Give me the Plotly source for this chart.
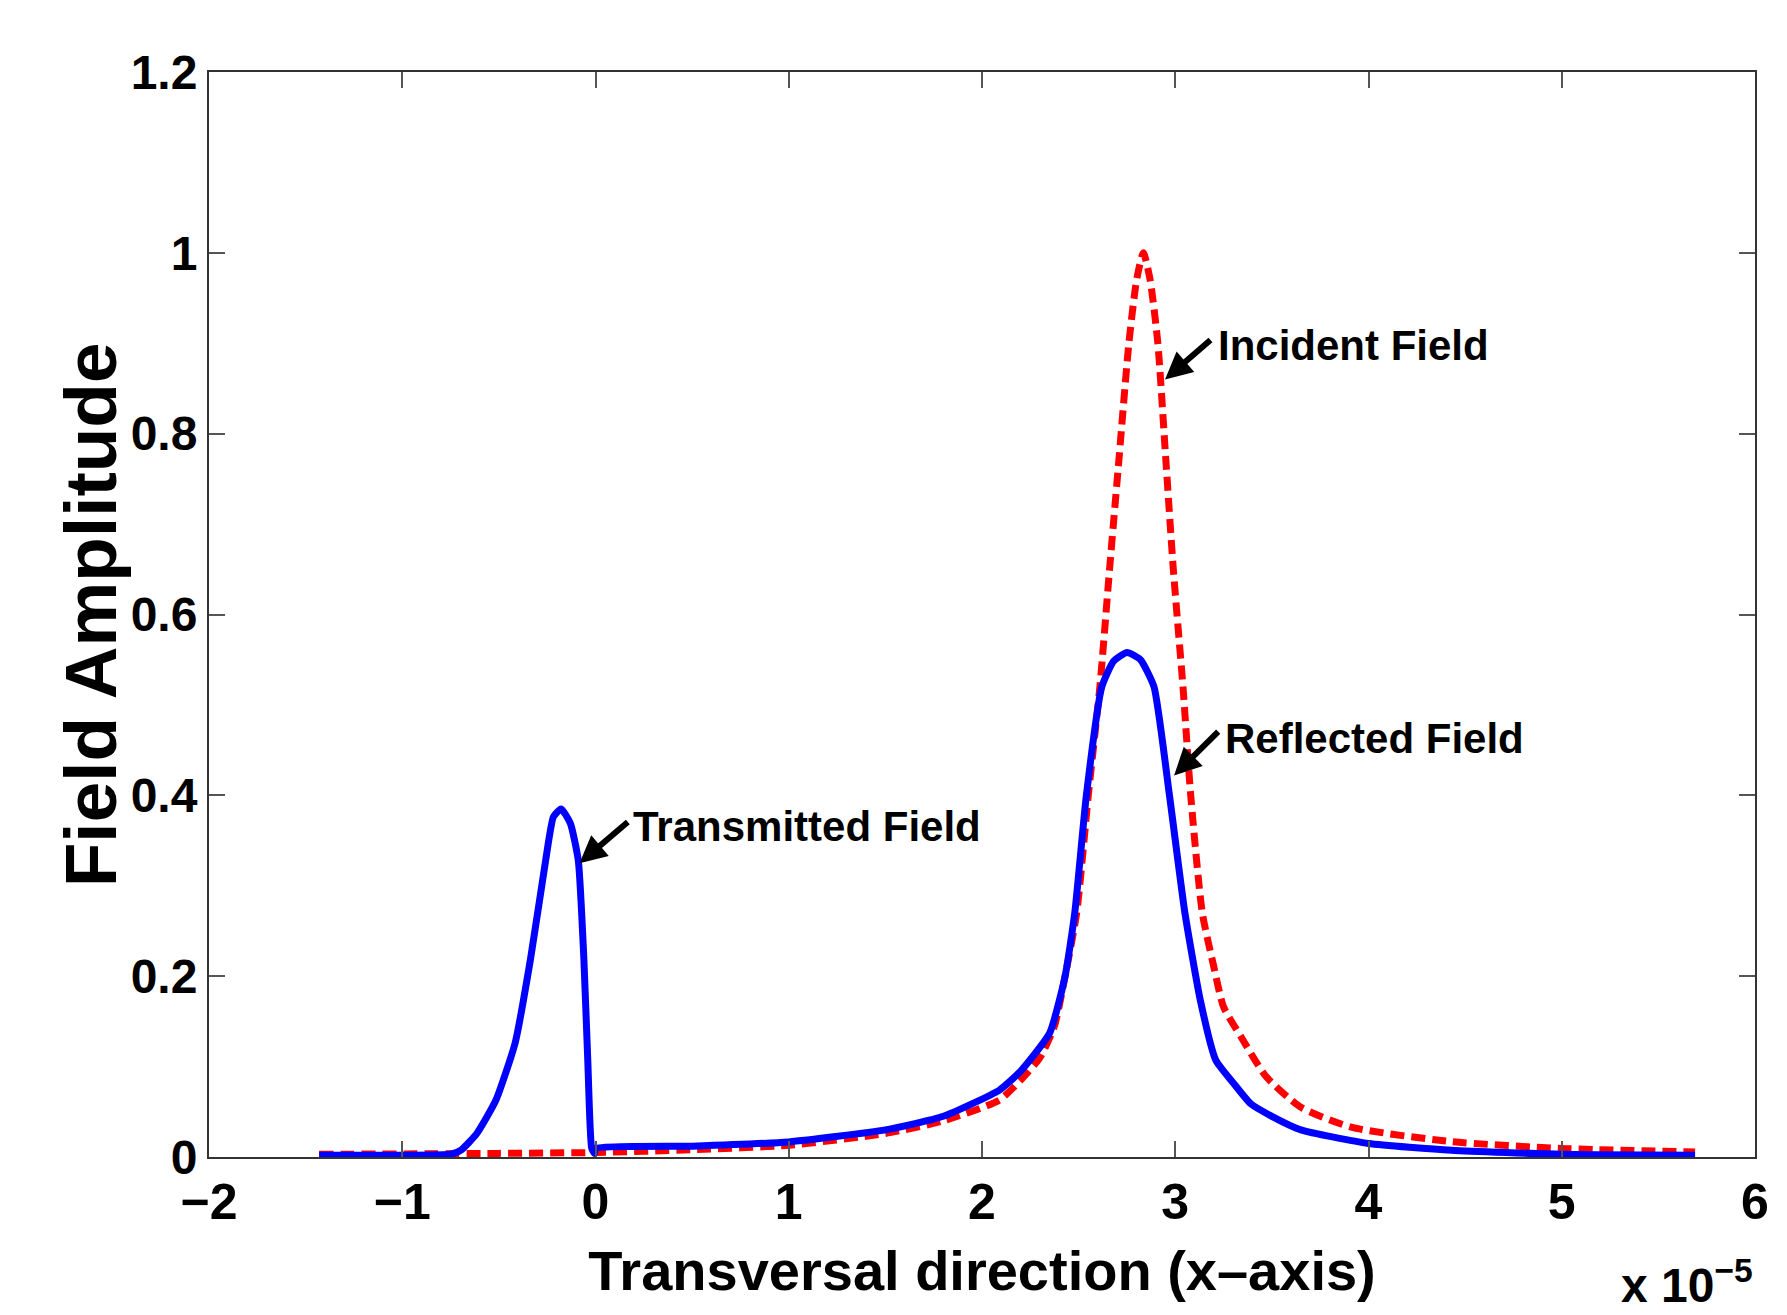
import plotly.graph_objects as go

# Data (x in units of 1e-5)
blue_x = [-1.43, -1.0, -0.75, -0.694, -0.614, -0.515, -0.416, -0.337, -0.258, -0.218, -0.178,
          -0.13, -0.089, -0.06, -0.04, -0.02, -0.005, 0.0, 0.5, 1.0, 1.5, 1.8, 2.09, 2.2, 2.35,
          2.43, 2.48, 2.54, 2.62, 2.68, 2.75, 2.82, 2.89, 2.97, 3.05, 3.13, 3.21, 3.3, 3.39, 3.5,
          3.65, 4.0, 4.43, 5.0, 5.69]
blue_y = [0.002, 0.002, 0.003, 0.008, 0.026, 0.063, 0.126, 0.218, 0.328, 0.376, 0.385,
          0.369, 0.328, 0.218, 0.107, 0.01, 0.004, 0.0094, 0.012, 0.0167, 0.030, 0.045, 0.074, 0.095, 0.137,
          0.2, 0.27, 0.40, 0.52, 0.548, 0.558, 0.55, 0.52, 0.40, 0.27, 0.173, 0.107, 0.082, 0.059, 0.045,
          0.030, 0.015, 0.0075, 0.003, 0.002]

red_x = [-1.43, -0.5, 0.0, 0.5, 1.0, 1.5, 1.8, 2.09, 2.2, 2.3, 2.375, 2.43, 2.49, 2.55, 2.61, 2.66,
         2.71, 2.76, 2.80, 2.835, 2.87, 2.91, 2.95, 2.99, 3.04, 3.08, 3.14, 3.2, 3.25, 3.34, 3.47,
         3.65, 3.91, 4.43, 5.0, 5.69]
red_y = [0.003, 0.004, 0.005, 0.008, 0.013, 0.026, 0.04, 0.063, 0.085, 0.11, 0.145, 0.20, 0.27, 0.40,
         0.52, 0.65, 0.775, 0.90, 0.97, 1.0, 0.97, 0.90, 0.775, 0.65, 0.52, 0.40, 0.27, 0.21, 0.166,
         0.133, 0.089, 0.055, 0.033, 0.017, 0.0094, 0.0056]

x_ticks = [-2, -1, 0, 1, 2, 3, 4, 5, 6]
y_ticks = [0, 0.2, 0.4, 0.6, 0.8, 1.0, 1.2]
y_tick_labels = ["0", "0.2", "0.4", "0.6", "0.8", "1", "1.2"]

labels = ["Incident Field", "Reflected Field", "Transmitted Field"]
label_pos = [(3.21, 0.898), (3.245, 0.463), (0.185, 0.366)]
arrow_head = [(2.947, 0.860), (2.994, 0.422), (-0.083, 0.325)]
arrow_tail = [(3.19, 0.905), (3.23, 0.472), (0.175, 0.372)]

NARROW = "Liberation Sans Narrow, Arial Narrow, Liberation Sans, Arial, sans-serif"
WIDE = "Liberation Sans, Arial, Helvetica, sans-serif"

fig = go.Figure()
fig.add_trace(go.Scatter(x=red_x, y=red_y, mode="lines",
                         line=dict(color="#ff0000", width=7, dash="14px,7px",
                                   shape="spline", smoothing=0.6),
                         showlegend=False))
fig.add_trace(go.Scatter(x=blue_x, y=blue_y, mode="lines",
                         line=dict(color="#0000ff", width=7, shape="spline", smoothing=0.5),
                         showlegend=False))

annotations = []
for (hx, hy), (tx, ty) in zip(arrow_head, arrow_tail):
    annotations.append(dict(x=hx, y=hy, ax=tx, ay=ty, xref="x", yref="y", axref="x", ayref="y",
                            text="", showarrow=True, arrowhead=2, arrowsize=0.9, arrowwidth=6,
                            arrowcolor="black"))
for txt, (lx, ly) in zip(labels, label_pos):
    annotations.append(dict(x=lx, y=ly, xref="x", yref="y", text=txt, showarrow=False,
                            xanchor="left", yanchor="middle",
                            font=dict(family=NARROW, size=42, color="black", weight="bold")))
annotations.append(dict(x=1.0, y=-0.145, xref="paper", yref="paper",
                        text="x 10<sup>\u22125</sup>", showarrow=False,
                        xanchor="right", yanchor="bottom",
                        font=dict(family=NARROW, size=48, color="black", weight="bold")))
# y-axis title
annotations.append(dict(x=-0.0765, y=0.5, xref="paper", yref="paper",
                        text="Field Amplitude", showarrow=False, textangle=-90,
                        xanchor="center", yanchor="middle",
                        font=dict(family=WIDE, size=73, color="black", weight="bold")))

fig.update_layout(
    width=1779, height=1307,
    margin=dict(l=201, r=32, t=64, b=158),
    paper_bgcolor="white", plot_bgcolor="white",
    annotations=annotations,
    xaxis=dict(range=[-2, 6], tickvals=x_ticks, ticktext=[str(v).replace("-", "\u2212") for v in x_ticks],
               ticks="inside", ticklen=16, tickwidth=1.5, tickcolor="#555",
               showline=True, linecolor="#333", linewidth=2, mirror="ticks",
               showgrid=False, zeroline=False,
               tickfont=dict(family=NARROW, size=50, color="black", weight="bold"),
               title=dict(text="Transversal direction (x\u2013axis)", standoff=22,
                          font=dict(family=NARROW, size=56, color="black", weight="bold"))),
    yaxis=dict(range=[0, 1.2], tickvals=y_ticks, ticktext=y_tick_labels,
               ticks="inside", ticklen=16, tickwidth=1.5, tickcolor="#555",
               showline=True, linecolor="#333", linewidth=2, mirror="ticks",
               showgrid=False, zeroline=False,
               tickfont=dict(family=NARROW, size=48, color="black", weight="bold")),
)

fig.write_html("out.html")
